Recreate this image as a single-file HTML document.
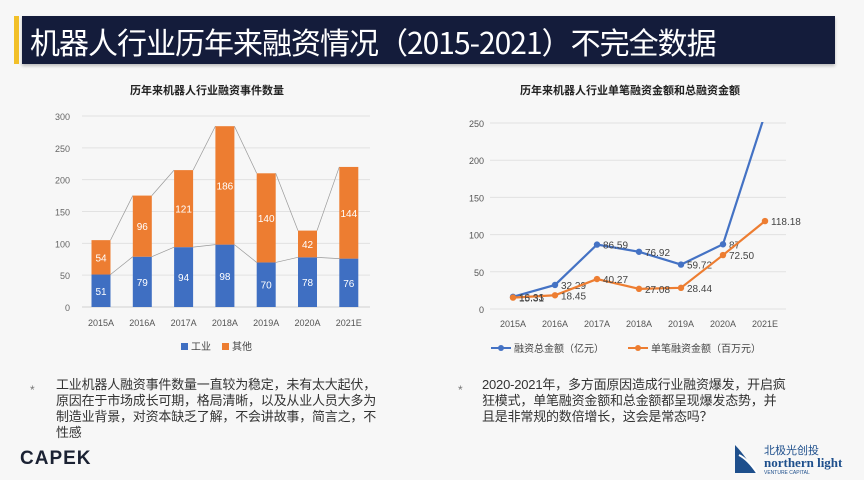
<!DOCTYPE html>
<html><head><meta charset="utf-8"><style>
body{margin:0;width:864px;height:480px;background:#f7f7f7;font-family:"Liberation Sans","Noto Sans CJK SC",sans-serif;overflow:hidden;position:relative}
.t{position:absolute}
</style></head><body>
<div class="t" style="left:14px;top:16px;width:5px;height:48px;background:#f2c029"></div>
<div class="t" style="left:22px;top:16px;width:813px;height:48px;background:#141c3b;box-shadow:0 2px 3px #bbb"></div>
<div class="t" style="left:30px;top:20px;font-size:30px;color:#fff;line-height:42px;font-family:'Noto Sans CJK SC',sans-serif;letter-spacing:-1px">机器人行业历年来融资情况（2015-2021）不完全数据</div>
<div class="t" style="left:130px;top:82px;font-size:11px;font-weight:bold;color:#222">历年来机器人行业融资事件数量</div>
<div class="t" style="left:520px;top:82px;font-size:11px;font-weight:bold;color:#222">历年来机器人行业单笔融资金额和总融资金额</div>
<svg class="t" style="left:0;top:0" width="864" height="480">
<g id="L"></g><g id="R"></g>
</svg>
<div class="t" style="left:30px;top:383px;font-size:12px;color:#777">*</div>
<div class="t" style="left:56px;top:377px;width:322px;font-size:13px;line-height:16px;color:#333;letter-spacing:-0.2px">工业机器人融资事件数量一直较为稳定，未有太大起伏，原因在于市场成长可期，格局清晰，以及从业人员大多为制造业背景，对资本缺乏了解，不会讲故事，简言之，不性感</div>
<div class="t" style="left:458px;top:383px;font-size:12px;color:#777">*</div>
<div class="t" style="left:482px;top:377px;width:305px;font-size:13px;line-height:16px;color:#333;letter-spacing:-0.2px">2020-2021年，多方面原因造成行业融资爆发，开启疯狂模式，单笔融资金额和总金额都呈现爆发态势，并且是非常规的数倍增长，这会是常态吗？</div>
<div class="t" style="left:20px;top:448px;font-size:19px;font-weight:bold;color:#1b2233;letter-spacing:1px">CAPEK</div>
<svg class="t" style="left:733px;top:443px" width="26" height="32"><path d="M2 2 L2 30 L24 30 C16 20 10 10 2 2Z" fill="#1e4f8c"/><path d="M6 12 C14 16 20 24 24 30" stroke="#fff" stroke-width="2" fill="none"/></svg>
<div class="t" style="left:764px;top:442px;font-size:11px;color:#1e4f8c">北极光创投</div>
<div class="t" style="left:764px;top:455px;font-size:13px;font-weight:bold;color:#1e4f8c;font-family:'Liberation Serif',serif">northern light</div>
<div class="t" style="left:764px;top:470px;font-size:5px;color:#1e4f8c">VENTURE CAPITAL</div>
<script>
const cats=["2015A","2016A","2017A","2018A","2019A","2020A","2021E"];
const indus=[51,79,94,98,70,78,76];
const other=[54,96,121,186,140,42,144];
const lTicks=[0,50,100,150,200,250,300];
const totalAmt=[16.33,32.29,86.59,76.92,59.72,87,262];
const singleAmt=[15.31,18.45,40.27,27.08,28.44,72.50,118.18];
const rTicks=[0,50,100,150,200,250];
const NS="http://www.w3.org/2000/svg";
function mk(p,t,a,txt){const e=document.createElementNS(NS,t);for(const k in a)e.setAttribute(k,a[k]);if(txt!=null)e.textContent=txt;p.appendChild(e);return e;}
const L=document.getElementById('L');
const ly=v=>307-v*(191/300), lx=i=>101+i*41.3;
lTicks.forEach(t=>{const g=mk(L,'line',{x1:82,x2:370,y1:ly(t),y2:ly(t),stroke:t?'#e2e2e2':'#d0d0d0'});
const tx=mk(L,'text',{x:70,y:ly(t)+4,'text-anchor':'end','font-size':9,fill:'#666'},t);});
const bw=19;
cats.forEach((c,i)=>{const x=lx(i);
const b1=mk(L,'rect',{x:x-bw/2,y:ly(indus[i]),width:bw,height:ly(0)-ly(indus[i]),fill:'#3f6fc2'});
const b2=mk(L,'rect',{x:x-bw/2,y:ly(indus[i]+other[i]),width:bw,height:ly(0)-ly(other[i]),fill:'#ed7d31'});
const t1=mk(L,'text',{x:x,y:(ly(0)+ly(indus[i]))/2+4,'text-anchor':'middle','font-size':10,fill:'#fff'},indus[i]);
const t2=mk(L,'text',{x:x,y:(ly(indus[i])+ly(indus[i]+other[i]))/2+4,'text-anchor':'middle','font-size':10,fill:'#fff'},other[i]);
const xl=mk(L,'text',{x:x,y:326,'text-anchor':'middle','font-size':9,fill:'#555'},c);
if(i<cats.length-1){const l1=mk(L,'line',{x1:x+bw/2,x2:lx(i+1)-bw/2,y1:ly(indus[i]),y2:ly(indus[i+1]),stroke:'#999','stroke-width':0.7});
const l2=mk(L,'line',{x1:x+bw/2,x2:lx(i+1)-bw/2,y1:ly(indus[i]+other[i]),y2:ly(indus[i+1]+other[i+1]),stroke:'#999','stroke-width':0.7});}
});
let e=mk(L,'rect',{x:181,y:343,width:7,height:7,fill:'#3f6fc2'});
e=mk(L,'text',{x:191,y:350,'font-size':10,fill:'#444'},'工业');
e=mk(L,'rect',{x:222,y:343,width:7,height:7,fill:'#ed7d31'});
e=mk(L,'text',{x:232,y:350,'font-size':10,fill:'#444'},'其他');
const R=document.getElementById('R');
const ry=v=>309-v*(186/250), rx=i=>513+i*42;
rTicks.forEach(t=>{const g=mk(R,'line',{x1:490,x2:786,y1:ry(t),y2:ry(t),stroke:'#e2e2e2'});
const tx=mk(R,'text',{x:484,y:ry(t)+4,'text-anchor':'end','font-size':9,fill:'#555'},t);});
cats.forEach((c,i)=>{const xl=mk(R,'text',{x:rx(i),y:327,'text-anchor':'middle','font-size':9,fill:'#555'},c);});
mk(R,'clipPath',{id:'rc'});mk(R.lastChild,'rect',{x:480,y:ry(250)-1,width:320,height:200});
function series(vals,col,name,labOff){
const pl=mk(R,'polyline',{points:vals.map((v,i)=>rx(i)+','+ry(v)).join(' '),fill:'none',stroke:col,'stroke-width':2.2,'clip-path':'url(#rc)'});
vals.forEach((v,i)=>{if(v>250)return;const c=mk(R,'circle',{cx:rx(i),cy:ry(v),r:3.2,fill:col});
const t=mk(R,'text',{x:rx(i)+6,y:ry(v)+labOff,'font-size':10,fill:'#444'},v.toFixed(2).replace(/^87\.00$/,'87'));});}
series(totalAmt,'#4472c4','total-amount',4);
series(singleAmt,'#ed7d31','single-amount',4);
e=mk(R,'line',{x1:491,x2:511,y1:348,y2:348,stroke:'#4472c4','stroke-width':2});
mk(R,'circle',{cx:501,cy:348,r:3,fill:'#4472c4'});
e=mk(R,'text',{x:514,y:352,'font-size':10,fill:'#444'},'融资总金额（亿元）');
e=mk(R,'line',{x1:628,x2:648,y1:348,y2:348,stroke:'#ed7d31','stroke-width':2});
mk(R,'circle',{cx:638,cy:348,r:3,fill:'#ed7d31'});
e=mk(R,'text',{x:651,y:352,'font-size':10,fill:'#444'},'单笔融资金额（百万元）');
</script>
</body></html>
